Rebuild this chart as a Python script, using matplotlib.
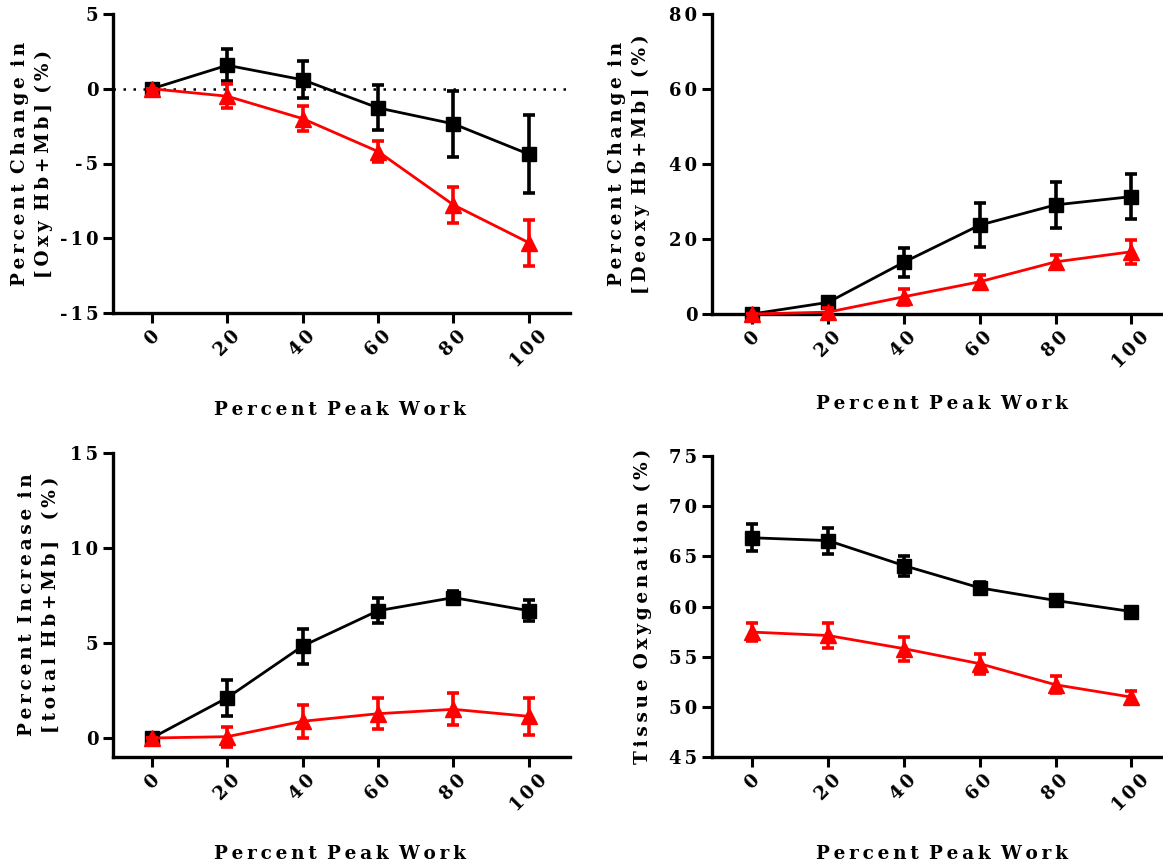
import matplotlib
matplotlib.use('Agg')
import numpy as np
import matplotlib.pyplot as plt

# percent peak work
work = [0, 20, 40, 60, 80, 100]

# [Oxy Hb+Mb]
oxy_black = [0.0, 1.57, 0.6, -1.28, -2.35, -4.38]
oxy_black_err = [0.0, 1.07, 1.25, 1.5, 2.2, 2.6]
oxy_red = [0.0, -0.5, -2.0, -4.2, -7.77, -10.3]
oxy_red_err = [0.0, 0.8, 0.85, 0.7, 1.2, 1.55]

# [Deoxy Hb+Mb]
deoxy_black = [0.0, 3.1, 13.8, 23.7, 29.1, 31.3]
deoxy_black_err = [0.0, 0.6, 3.9, 5.8, 6.1, 6.0]
deoxy_red = [0.0, 0.5, 4.6, 8.6, 13.9, 16.6]
deoxy_red_err = [0.0, 1.0, 2.2, 1.9, 1.9, 3.2]

# [total Hb+Mb]
total_black = [0.0, 2.12, 4.84, 6.7, 7.39, 6.7]
total_black_err = [0.0, 0.95, 0.92, 0.67, 0.35, 0.55]
total_red = [0.0, 0.07, 0.88, 1.28, 1.51, 1.14]
total_red_err = [0.0, 0.52, 0.86, 0.82, 0.85, 0.98]

# tissue oxygenation
tsi_black = [66.85, 66.57, 64.08, 61.86, 60.6, 59.5]
tsi_black_err = [1.35, 1.3, 1.0, 0.6, 0.5, 0.4]
tsi_red = [57.45, 57.11, 55.8, 54.3, 52.2, 50.97]
tsi_red_err = [0.87, 1.2, 1.2, 1.0, 0.87, 0.6]

TH = '\u2009'  # thin space
SIX = '\u2006'  # six-per-em space


def sp(s, gap=TH):
    # letter-spaced text like the original figure
    return (' ' + gap).join(gap.join(w) for w in s.split(' '))


FONT = dict(family='DejaVu Serif', weight='bold')

fig = plt.figure(figsize=(11.63, 8.64), dpi=100)
W, H = 1163.0, 864.0


def make_ax(x0, x1, y0, y1):
    return fig.add_axes([x0 / W, 1 - y1 / H, (x1 - x0) / W, (y1 - y0) / H])


def style(ax, ylim, yticks, ylabel, xlim, ylab_x, xlab_y):
    ax.set_xlim(*xlim)
    ax.set_ylim(*ylim)
    for s in ['top', 'right']:
        ax.spines[s].set_visible(False)
    for s in ['left', 'bottom']:
        ax.spines[s].set_linewidth(2.4)
    ax.tick_params(width=2.2, length=7, direction='out')
    ax.set_xticks(work)
    ax.set_xticklabels([sp(str(v), SIX) for v in work], rotation=45,
                       ha='center', fontsize=13, **FONT)
    ax.set_yticks(yticks)
    ax.set_yticklabels([sp(str(v), SIX) for v in yticks], fontsize=13, **FONT)
    ax.set_xlabel(sp('Percent Peak Work'), fontsize=13.3, **FONT)
    ax.set_ylabel(ylabel, fontsize=13.3, linespacing=1.4, **FONT)
    ax.yaxis.set_label_coords(ylab_x, 0.5)
    ax.xaxis.set_label_coords(0.497, xlab_y)


def draw(ax, yb, eb, yr, er):
    ax.errorbar(work, yb, yerr=eb, color='black', marker='s', markersize=10,
                lw=2.0, elinewidth=2.6, capsize=4.5, capthick=2.6, zorder=3,
                clip_on=False)
    ax.errorbar(work, yr, yerr=er, color='#ff0000', marker='^', markersize=11,
                lw=2.0, elinewidth=2.6, capsize=4.5, capthick=2.6, zorder=4,
                clip_on=False)


xl = (-10.3, 110.9)

ax1 = make_ax(113, 570, 14, 313)
ax1.axhline(0, color='black', ls=(0, (1, 3)), lw=1.8, zorder=1)
draw(ax1, oxy_black, oxy_black_err, oxy_red, oxy_red_err)
style(ax1, (-15, 5), [5, 0, -5, -10, -15],
      sp('Percent Change in') + '\n' + sp('[Oxy Hb+Mb] (%)'), xl,
      -0.131, -0.294)

ax2 = make_ax(712, 1175, 14, 314)
draw(ax2, deoxy_black, deoxy_black_err, deoxy_red, deoxy_red_err)
style(ax2, (0, 80), [0, 20, 40, 60, 80],
      sp('Percent Change in') + '\n' + sp('[Deoxy Hb+Mb] (%)'), (-10.6, 111.5),
      -0.134, -0.27)

ax3 = make_ax(113, 570, 453, 757)
draw(ax3, total_black, total_black_err, total_red, total_red_err)
style(ax3, (-1, 15), [0, 5, 10, 15],
      sp('Percent Increase in') + '\n' + sp('[total Hb+Mb]  (%)'), xl,
      -0.116, -0.289)

ax4 = make_ax(712, 1175, 456, 757)
draw(ax4, tsi_black, tsi_black_err, tsi_red, tsi_red_err)
style(ax4, (45, 75), [45, 50, 55, 60, 65, 70, 75],
      sp('Tissue Oxygenation (%)'), (-10.6, 111.5),
      -0.130, -0.292)

fig.savefig('out.png', dpi=100)
